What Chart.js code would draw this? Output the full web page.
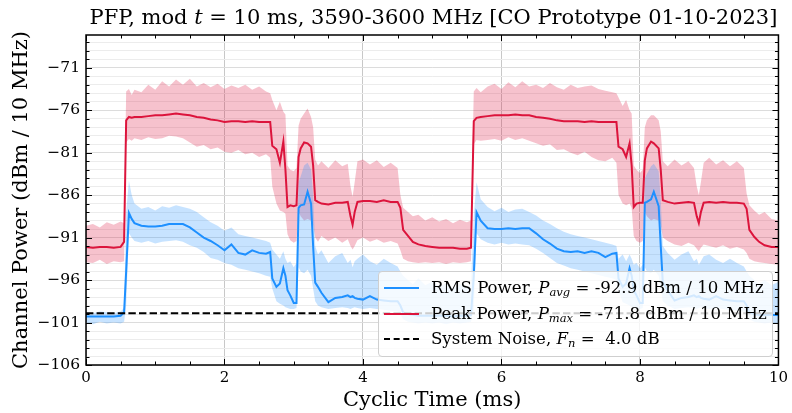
<!DOCTYPE html>
<html>
<head>
<meta charset="utf-8">
<script src="https://cdn.jsdelivr.net/npm/chart.js@4.4.1/dist/chart.umd.min.js"></script>
<style>
  html, body { margin: 0; padding: 0; background: #fff; }
  #wrap { position: relative; width: 792px; height: 413px; font-family: "DejaVu Serif", serif; }
  #title { position: absolute; left: 86px; width: 695px; top: 5px; text-align: center; font-size: 21px; line-height: 24px; color: #000; white-space: nowrap; }
  #legend { position: absolute; left: 378px; top: 271px; width: 395px; height: 86px; box-sizing: border-box;
            background: rgba(255,255,255,0.8); border: 1px solid #cfcfcf; border-radius: 4px; font-size: 16.6px; }
  .row { position: absolute; left: 0; height: 24px; line-height: 24px; white-space: nowrap; }
  .sw { position: absolute; left: 5px; top: 11px; width: 35px; height: 0; border-top: 2px solid; }
  .txt { position: absolute; left: 52px; top: 0; }
  sub { font-size: 11.5px; vertical-align: -3px; line-height: 0; }
</style>
</head>
<body>
<div id="wrap">
  <canvas id="chart" width="792" height="413"></canvas>
  <div id="title">PFP, mod <i>t</i> = 10 ms, 3590-3600 MHz [CO Prototype 01-10-2023]</div>
  <div id="legend">
    <div class="row" style="top:4px"><span class="sw" style="border-color:#1E90FF"></span><span class="txt">RMS Power, <i>P</i><sub><i>avg</i></sub> = -92.9 dBm / 10 MHz</span></div>
    <div class="row" style="top:30px"><span class="sw" style="border-color:#DC143C"></span><span class="txt">Peak Power, <i>P</i><sub><i>max</i></sub> = -71.8 dBm / 10 MHz</span></div>
    <div class="row" style="top:55px"><span class="sw" style="border-color:#000;border-top-style:dashed"></span><span class="txt">System Noise, <i>F</i><sub><i>n</i></sub> =&nbsp; 4.0 dB</span></div>
  </div>
</div>
<script>
// cyclic time axis (ms)
const timeMs = [
  0, 0.1, 0.2, 0.3, 0.4, 0.5, 0.55, 0.58, 0.62, 0.66, 0.7, 0.8, 0.9, 1.0, 1.1, 1.2, 1.3, 1.4, 1.5, 1.6,
  1.7, 1.8, 1.9, 2.0, 2.1, 2.2, 2.3, 2.4, 2.5, 2.6, 2.66, 2.69, 2.75, 2.8, 2.85, 2.88, 2.91, 2.95, 3.0, 3.04,
  3.07, 3.1, 3.15, 3.2, 3.25, 3.28, 3.31, 3.35, 3.4, 3.5, 3.6, 3.7, 3.78, 3.82, 3.85, 3.88, 3.92, 4.0, 4.1, 4.2,
  4.3, 4.4, 4.5, 4.54, 4.58, 4.65, 4.72, 4.8, 4.9, 5.0, 5.1, 5.2, 5.3, 5.4, 5.5, 5.56, 5.6, 5.64, 5.7, 5.8,
  5.9, 6.0, 6.1, 6.2, 6.3, 6.4, 6.5, 6.6, 6.7, 6.8, 6.9, 7.0, 7.1, 7.2, 7.3, 7.4, 7.5, 7.6, 7.66, 7.69,
  7.75, 7.8, 7.85, 7.88, 7.91, 7.95, 8.0, 8.04, 8.07, 8.1, 8.16, 8.2, 8.27, 8.3, 8.33, 8.4, 8.5, 8.6, 8.7, 8.78,
  8.82, 8.85, 8.88, 8.92, 9.0, 9.1, 9.2, 9.3, 9.4, 9.5, 9.54, 9.58, 9.65, 9.72, 9.8, 9.9, 10.0
];

// RMS power (dBm / 10 MHz) and its min/max envelope
const rmsPower = [
  -100.3, -100.3, -100.3, -100.3, -100.3, -100.2, -99.8, -95.0, -88.1, -88.8, -89.3, -89.6, -89.7, -89.7, -89.6, -89.4, -89.4, -89.4, -89.8, -90.4,
  -91.0, -91.4, -91.9, -92.5, -91.8, -92.8, -93.0, -92.5, -92.8, -92.9, -92.7, -95.8, -96.8, -96.4, -94.6, -95.5, -97.2, -97.8, -98.7, -98.7,
  -87.5, -87.2, -87.1, -85.6, -87.0, -92.0, -96.3, -96.8, -97.5, -98.6, -98.1, -98.0, -97.8, -98.0, -97.9, -98.1, -98.2, -98.3, -97.9, -98.3,
  -98.4, -98.5, -98.5, -99.0, -99.8, -100.0, -100.1, -100.2, -100.2, -100.2, -100.2, -100.2, -100.3, -100.2, -100.2, -100.1, -95.5, -88.0, -89.0, -89.9,
  -90.0, -90.0, -89.9, -90.0, -89.9, -89.9, -90.5, -91.2, -91.7, -92.3, -92.6, -92.7, -92.6, -92.8, -92.6, -92.8, -93.3, -92.9, -92.8, -95.8,
  -96.8, -96.4, -94.6, -95.5, -97.2, -97.8, -98.7, -98.7, -86.9, -86.8, -86.5, -85.6, -87.3, -92.0, -96.3, -97.2, -98.4, -98.1, -98.0, -97.8,
  -98.0, -97.9, -98.1, -98.2, -98.3, -97.9, -98.3, -98.4, -98.5, -98.5, -99.0, -99.8, -100.0, -100.1, -100.1, -100.1, -100.1
];
const rmsLow = [
  -101.0, -101.2, -100.9, -101.1, -101.0, -101.1, -100.9, -99.0, -90.5, -91.0, -91.4, -91.6, -91.4, -91.7, -91.5, -91.4, -91.3, -91.5, -91.9, -92.2,
  -92.7, -93.4, -93.6, -94.0, -94.2, -94.6, -94.8, -95.0, -95.2, -95.5, -95.6, -97.0, -98.5, -98.8, -99.0, -99.2, -99.3, -99.4, -99.4, -99.3,
  -94.5, -95.0, -95.2, -94.8, -95.5, -97.0, -98.5, -99.0, -99.2, -99.4, -99.3, -99.2, -99.3, -99.4, -99.3, -99.2, -99.3, -99.4, -99.3, -99.4,
  -99.5, -99.6, -99.7, -100.0, -100.6, -100.9, -101.0, -101.1, -101.0, -101.1, -101.0, -101.2, -101.0, -101.1, -101.0, -100.9, -99.5, -90.5, -91.2, -91.6,
  -91.8, -91.6, -91.8, -91.7, -91.8, -91.9, -92.3, -92.8, -93.4, -94.0, -94.3, -94.6, -94.8, -95.0, -95.2, -95.4, -95.6, -95.8, -96.0, -97.2,
  -98.6, -98.8, -99.0, -99.2, -99.3, -99.4, -99.4, -99.3, -94.5, -95.0, -95.2, -94.8, -95.5, -97.0, -98.5, -99.0, -99.4, -99.3, -99.2, -99.3,
  -99.4, -99.3, -99.2, -99.3, -99.4, -99.3, -99.4, -99.5, -99.6, -99.7, -100.0, -100.6, -100.9, -101.0, -101.1, -101.0, -101.1
];
const rmsHigh = [
  -99.8, -99.9, -99.7, -99.8, -99.9, -99.7, -99.3, -88.0, -84.3, -86.0, -87.0, -87.6, -87.4, -87.8, -87.3, -87.5, -87.2, -87.4, -87.6, -88.0,
  -88.6, -89.2, -89.6, -90.2, -89.8, -90.6, -90.8, -91.0, -91.2, -91.4, -91.6, -92.4, -93.0, -93.5, -92.6, -93.5, -94.0, -93.8, -94.5, -94.0,
  -84.5, -83.8, -82.5, -82.2, -83.0, -86.0, -92.0, -93.0, -92.5, -94.0, -93.2, -92.8, -94.0, -93.6, -94.5, -93.8, -93.5, -93.0, -93.8, -94.2,
  -93.5, -94.0, -94.4, -95.0, -95.5, -96.0, -96.5, -95.8, -96.6, -96.2, -96.8, -96.4, -97.0, -96.5, -96.9, -96.5, -88.5, -84.5, -86.5, -87.4,
  -87.9, -87.5, -88.0, -87.7, -87.6, -88.0, -88.4, -89.0, -89.4, -89.9, -90.3, -90.6, -90.8, -91.0, -91.2, -91.4, -91.6, -91.8, -92.0, -93.5,
  -93.0, -93.8, -93.0, -93.5, -94.2, -94.0, -94.6, -94.2, -84.0, -83.5, -82.6, -82.3, -83.2, -86.5, -92.0, -92.8, -93.6, -93.0, -92.6, -93.8,
  -93.5, -94.2, -93.8, -93.2, -93.0, -93.6, -94.0, -93.5, -94.0, -94.4, -95.0, -95.5, -96.0, -96.5, -96.0, -96.6, -96.2
];

// peak power (dBm / 10 MHz) and its min/max envelope
const peakPower = [
  -92.1, -92.2, -92.1, -92.1, -92.2, -92.1, -91.5, -77.2, -76.8, -76.9, -76.8, -76.8, -76.7, -76.6, -76.6, -76.5, -76.4, -76.5, -76.6, -76.8,
  -76.9, -77.1, -77.2, -77.4, -77.3, -77.3, -77.4, -77.3, -77.4, -77.4, -77.4, -80.2, -80.6, -82.2, -79.7, -83.0, -87.4, -87.2, -87.3, -87.2,
  -81.5, -80.5, -79.8, -79.9, -80.3, -82.5, -86.6, -86.8, -87.0, -87.1, -86.9, -86.9, -86.8, -88.5, -89.5, -88.0, -86.8, -86.7, -86.7, -86.8,
  -86.6, -86.8, -86.8, -87.5, -90.1, -90.8, -91.5, -91.8, -92.0, -92.1, -92.2, -92.2, -92.2, -92.3, -92.3, -92.2, -77.3, -76.9, -76.8, -76.7,
  -76.6, -76.6, -76.6, -76.5, -76.6, -76.6, -76.8, -76.9, -77.0, -77.2, -77.3, -77.3, -77.3, -77.4, -77.3, -77.4, -77.4, -77.4, -77.4, -80.3,
  -80.6, -81.5, -79.9, -82.5, -87.4, -87.0, -86.9, -86.9, -81.9, -80.5, -79.7, -79.9, -80.5, -83.0, -86.6, -86.8, -87.0, -86.9, -86.8, -86.9,
  -88.5, -89.3, -88.0, -86.9, -86.8, -86.9, -86.8, -86.9, -86.9, -87.0, -87.6, -90.1, -90.9, -91.5, -91.9, -92.1, -92.1
];
const peakLow = [
  -93.9, -94.0, -93.6, -94.1, -93.8, -93.9, -93.8, -79.8, -79.4, -79.6, -79.3, -79.5, -79.2, -79.4, -79.3, -79.0, -79.1, -79.3, -79.8, -80.3,
  -80.1, -80.6, -80.4, -80.9, -81.0, -80.7, -81.2, -81.0, -81.5, -81.2, -81.6, -85.0, -87.0, -87.8, -88.0, -88.2, -90.6, -91.3, -91.6, -91.4,
  -88.0, -88.5, -89.0, -88.8, -89.0, -89.5, -91.0, -91.5, -90.8, -91.4, -91.0, -91.6, -91.2, -92.0, -92.4, -92.0, -91.3, -91.0, -91.5, -91.2,
  -91.6, -91.4, -91.7, -92.5, -93.5, -93.8, -93.9, -94.0, -93.9, -94.0, -93.9, -94.1, -93.9, -94.0, -93.9, -93.8, -80.0, -79.5, -79.6, -79.5,
  -79.4, -79.6, -79.2, -79.5, -79.3, -79.6, -79.9, -80.2, -80.0, -80.7, -80.6, -81.0, -81.3, -80.9, -81.5, -81.9, -82.0, -81.6, -82.2, -86.0,
  -87.0, -87.2, -87.0, -87.5, -90.8, -91.4, -91.6, -91.4, -88.0, -88.5, -89.0, -88.8, -89.0, -89.5, -91.0, -91.4, -91.8, -92.0, -91.6, -91.9,
  -92.3, -92.6, -92.2, -91.8, -92.0, -92.2, -91.9, -92.3, -92.1, -92.4, -92.8, -93.5, -93.8, -93.9, -94.0, -94.1, -94.2
];
const peakHigh = [
  -89.6, -89.4, -89.8, -89.2, -89.5, -89.1, -89.3, -73.8, -73.5, -74.2, -73.6, -73.9, -73.0, -73.6, -72.6, -73.2, -72.4, -73.0, -72.3, -73.2,
  -72.8, -73.3, -72.9, -73.5, -73.1, -73.4, -73.0, -73.6, -73.2, -73.8, -74.0, -74.8, -76.0, -75.0, -76.2, -76.5, -82.5, -83.0, -83.2, -82.8,
  -77.8, -77.0, -76.4, -75.8, -76.8, -78.0, -81.8, -82.5, -82.0, -82.8, -81.9, -82.6, -82.3, -85.0, -86.2, -84.5, -82.0, -81.8, -82.4, -81.9,
  -82.7, -82.2, -82.8, -86.0, -87.5, -88.0, -88.5, -88.3, -89.0, -88.6, -89.1, -88.8, -89.3, -88.9, -89.2, -89.0, -73.8, -73.4, -73.9, -73.2,
  -72.9, -73.5, -72.7, -73.3, -72.6, -73.2, -73.0, -73.4, -72.8, -73.3, -73.6, -73.0, -73.4, -73.2, -73.1, -73.5, -73.7, -73.9, -74.0, -74.5,
  -75.5, -74.8, -76.0, -76.4, -82.5, -83.0, -83.4, -83.0, -78.0, -77.2, -76.6, -76.6, -77.2, -78.5, -82.0, -82.6, -81.8, -82.5, -82.0, -82.8,
  -85.0, -86.0, -84.5, -82.2, -81.6, -82.4, -81.9, -82.6, -82.0, -82.8, -85.8, -87.2, -87.8, -88.3, -88.0, -88.8, -89.0
];

const systemNoise = -99.9;
const xLabelTicks = [0, 2, 4, 6, 8, 10];
const yLabelTicks = [-106, -101, -96, -91, -86, -81, -76, -71];

const pts = vals => timeMs.map((t, i) => ({ x: t, y: vals[i] }));

// inward ticks on all four sides plus the black frame
const frameTicks = {
  id: 'frameTicks',
  afterDraw(chart) {
    const { ctx, chartArea: a, scales: { x, y } } = chart;
    ctx.save();
    ctx.strokeStyle = '#000';
    ctx.lineWidth = 1;
    ctx.beginPath();
    x.ticks.forEach(t => {
      const px = Math.round(x.getPixelForValue(t.value)) + 0.5;
      const len = xLabelTicks.includes(t.value) ? 6 : 3.5;
      ctx.moveTo(px, a.bottom); ctx.lineTo(px, a.bottom - len);
      ctx.moveTo(px, a.top); ctx.lineTo(px, a.top + len);
    });
    y.ticks.forEach(t => {
      const py = Math.round(y.getPixelForValue(t.value)) + 0.5;
      const len = yLabelTicks.includes(t.value) ? 6 : 3.5;
      ctx.moveTo(a.left, py); ctx.lineTo(a.left + len, py);
      ctx.moveTo(a.right, py); ctx.lineTo(a.right - len, py);
    });
    ctx.stroke();
    ctx.lineWidth = 1.5;
    ctx.strokeRect(a.left, a.top, a.right - a.left, a.bottom - a.top);
    ctx.restore();
  }
};

const lineOpts = { pointRadius: 0, tension: 0, fill: false };

new Chart(document.getElementById('chart').getContext('2d'), {
  type: 'line',
  data: {
    datasets: [
      { data: pts(peakHigh), ...lineOpts, borderWidth: 0, fill: '+1', backgroundColor: 'rgba(220,20,60,0.26)', order: 10 },
      { data: pts(peakLow), ...lineOpts, borderWidth: 0, order: 10 },
      { data: pts(rmsHigh), ...lineOpts, borderWidth: 0, fill: '+1', backgroundColor: 'rgba(30,144,255,0.25)', order: 9 },
      { data: pts(rmsLow), ...lineOpts, borderWidth: 0, order: 9 },
      { data: pts(rmsPower), ...lineOpts, borderColor: '#1E90FF', borderWidth: 2, order: 4 },
      { data: pts(peakPower), ...lineOpts, borderColor: '#DC143C', borderWidth: 2, order: 3 },
      { data: [{ x: 0, y: systemNoise }, { x: 10, y: systemNoise }], ...lineOpts, borderColor: '#000', borderWidth: 2, borderDash: [7.4, 3.2], order: 1 }
    ]
  },
  options: {
    responsive: false,
    animation: false,
    layout: { padding: { top: 35, right: 11, left: 0, bottom: 0 } },
    plugins: { legend: { display: false }, tooltip: { enabled: false } },
    scales: {
      x: {
        type: 'linear', min: 0, max: 10,
        afterFit: s => { s.height = 48; },
        ticks: {
          stepSize: 0.5, autoSkip: false, maxRotation: 0, padding: 4, color: '#000',
          font: { family: 'DejaVu Serif', size: 15 },
          callback: v => xLabelTicks.includes(v) ? String(v) : ''
        },
        grid: {
          drawTicks: false,
          color: c => (xLabelTicks.includes(c.tick.value) ? '#c8c8c8' : 'rgba(0,0,0,0)'),
          lineWidth: 1
        },
        border: { display: false },
        title: { display: true, text: 'Cyclic Time (ms)', color: '#000', font: { family: 'DejaVu Serif', size: 21 }, padding: { top: 0, bottom: 0 } }
      },
      y: {
        min: -106, max: -67.15,
        afterFit: s => { s.width = 86; },
        ticks: {
          stepSize: 1, includeBounds: false, autoSkip: false, padding: 6, color: '#000',
          font: { family: 'DejaVu Serif', size: 15.5 },
          callback: v => yLabelTicks.includes(v) ? '\u2212' + Math.abs(v) : ''
        },
        grid: {
          drawTicks: false,
          color: c => (yLabelTicks.includes(c.tick.value) ? '#dcdcdc' : '#ececec'),
          lineWidth: 1
        },
        border: { display: false },
        title: { display: true, text: 'Channel Power (dBm / 10 MHz)', color: '#000', font: { family: 'DejaVu Serif', size: 21 }, padding: { top: 9, bottom: 0 } }
      }
    }
  },
  plugins: [frameTicks]
});
</script>
</body>
</html>
